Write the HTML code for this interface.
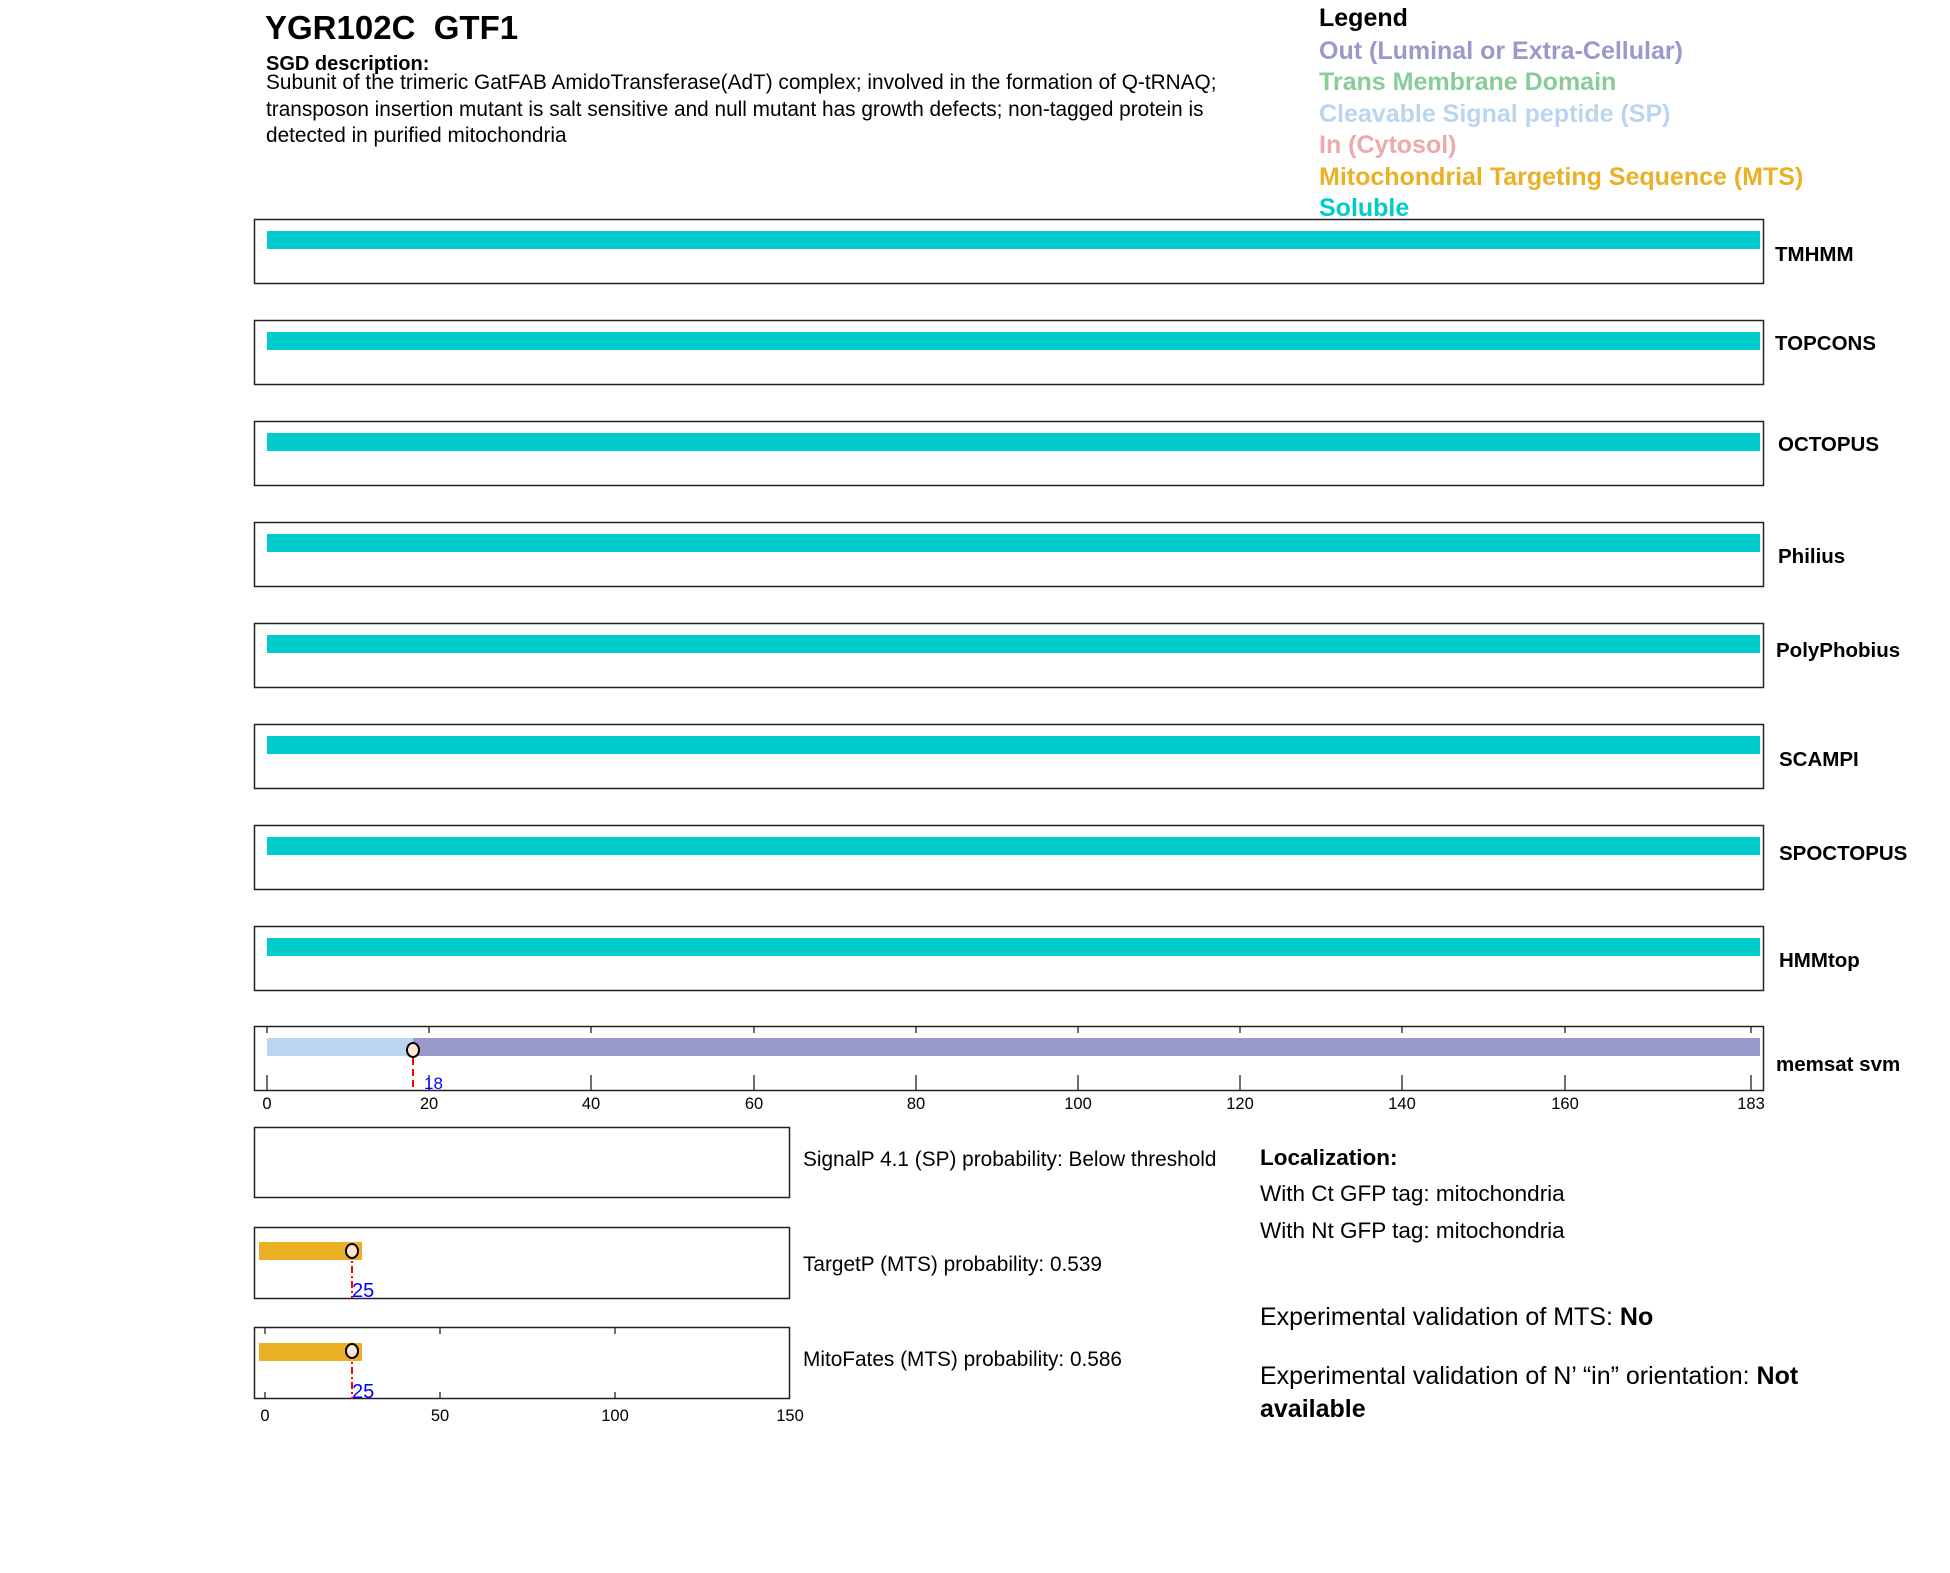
<!DOCTYPE html>
<html><head><meta charset="utf-8"><style>
html,body{margin:0;padding:0;background:#fff;}
svg{display:block;font-family:"Liberation Sans",Arial,sans-serif;}
</style></head><body>
<svg width="1950" height="1573" viewBox="0 0 1950 1573" xmlns="http://www.w3.org/2000/svg">
<rect width="1950" height="1573" fill="#fff"/>
<text x="265" y="39" font-size="33" font-weight="bold">YGR102C&#160;&#160;GTF1</text>
<text x="266" y="70" font-size="20" font-weight="bold">SGD description:</text>
<text x="266" y="89" font-size="20.8">Subunit of the trimeric GatFAB AmidoTransferase(AdT) complex; involved in the formation of Q-tRNAQ;</text>
<text x="266" y="116" font-size="20.8">transposon insertion mutant is salt sensitive and null mutant has growth defects; non-tagged protein is</text>
<text x="266" y="142" font-size="20.8">detected in purified mitochondria</text>

<g font-size="25" font-weight="bold">
<text x="1319" y="26" fill="#000">Legend</text>
<text x="1319" y="59" fill="#9999CC">Out (Luminal or Extra-Cellular)</text>
<text x="1319" y="90" fill="#88CC99">Trans Membrane Domain</text>
<text x="1319" y="122" fill="#BBD5F0">Cleavable Signal peptide (SP)</text>
<text x="1319" y="153" fill="#EEAAAA">In (Cytosol)</text>
<text x="1319" y="185" fill="#EBB025">Mitochondrial Targeting Sequence (MTS)</text>
<text x="1319" y="216" fill="#00CCCC">Soluble</text>
</g>

<g stroke="#222" stroke-width="1.5" fill="none">
<rect x="254.5" y="219.5" width="1509" height="64"/>
<rect x="254.5" y="320.5" width="1509" height="64"/>
<rect x="254.5" y="421.5" width="1509" height="64"/>
<rect x="254.5" y="522.5" width="1509" height="64"/>
<rect x="254.5" y="623.5" width="1509" height="64"/>
<rect x="254.5" y="724.5" width="1509" height="64"/>
<rect x="254.5" y="825.5" width="1509" height="64"/>
<rect x="254.5" y="926.5" width="1509" height="64"/>
<rect x="254.5" y="1026.5" width="1509" height="64"/>
</g>
<g fill="#00CCCC">
<rect x="267" y="231" width="1493" height="18"/>
<rect x="267" y="332" width="1493" height="18"/>
<rect x="267" y="433" width="1493" height="18"/>
<rect x="267" y="534" width="1493" height="18"/>
<rect x="267" y="635" width="1493" height="18"/>
<rect x="267" y="736" width="1493" height="18"/>
<rect x="267" y="837" width="1493" height="18"/>
<rect x="267" y="938" width="1493" height="18"/>
</g>
<g font-size="20.5" font-weight="bold">
<text x="1775" y="261">TMHMM</text>
<text x="1775" y="350">TOPCONS</text>
<text x="1778" y="451">OCTOPUS</text>
<text x="1778" y="563">Philius</text>
<text x="1776" y="657">PolyPhobius</text>
<text x="1779" y="766">SCAMPI</text>
<text x="1779" y="860">SPOCTOPUS</text>
<text x="1779" y="967">HMMtop</text>
<text x="1776" y="1071">memsat svm</text>
</g>

<!-- memsat -->
<rect x="267" y="1038" width="146" height="18" fill="#BBD5F0"/>
<rect x="413" y="1038" width="1347" height="18" fill="#9999CC"/>
<g stroke="#222" stroke-width="1.3">
<line x1="267" y1="1027" x2="267" y2="1033"/><line x1="267" y1="1075" x2="267" y2="1090"/>
<line x1="429" y1="1027" x2="429" y2="1033"/><line x1="429" y1="1075" x2="429" y2="1090"/>
<line x1="591" y1="1027" x2="591" y2="1033"/><line x1="591" y1="1075" x2="591" y2="1090"/>
<line x1="754" y1="1027" x2="754" y2="1033"/><line x1="754" y1="1075" x2="754" y2="1090"/>
<line x1="916" y1="1027" x2="916" y2="1033"/><line x1="916" y1="1075" x2="916" y2="1090"/>
<line x1="1078" y1="1027" x2="1078" y2="1033"/><line x1="1078" y1="1075" x2="1078" y2="1090"/>
<line x1="1240" y1="1027" x2="1240" y2="1033"/><line x1="1240" y1="1075" x2="1240" y2="1090"/>
<line x1="1402" y1="1027" x2="1402" y2="1033"/><line x1="1402" y1="1075" x2="1402" y2="1090"/>
<line x1="1565" y1="1027" x2="1565" y2="1033"/><line x1="1565" y1="1075" x2="1565" y2="1090"/>
<line x1="1751" y1="1027" x2="1751" y2="1033"/><line x1="1751" y1="1075" x2="1751" y2="1090"/>
</g>
<line x1="413" y1="1047" x2="413" y2="1090" stroke="#f00" stroke-width="2" stroke-dasharray="7,4"/>
<ellipse cx="413" cy="1050" rx="6" ry="7" fill="#FDE8CF" stroke="#000" stroke-width="2"/>
<text x="424" y="1089" font-size="17" fill="#00f">18</text>
<g font-size="16.5" text-anchor="middle">
<text x="267" y="1109">0</text><text x="429" y="1109">20</text><text x="591" y="1109">40</text>
<text x="754" y="1109">60</text><text x="916" y="1109">80</text><text x="1078" y="1109">100</text>
<text x="1240" y="1109">120</text><text x="1402" y="1109">140</text><text x="1565" y="1109">160</text>
<text x="1751" y="1109">183</text>
</g>

<!-- bottom boxes -->
<g stroke="#222" stroke-width="1.5" fill="none">
<rect x="254.5" y="1127.5" width="535" height="70"/>
<rect x="254.5" y="1227.5" width="535" height="71"/>
<rect x="254.5" y="1327.5" width="535" height="71"/>
</g>
<rect x="259" y="1242" width="103" height="18" fill="#EBB025"/>
<rect x="259" y="1343" width="103" height="18" fill="#EBB025"/>
<line x1="352" y1="1251" x2="352" y2="1298" stroke="#f00" stroke-width="2" stroke-dasharray="7,3,2,3"/>
<line x1="352" y1="1352" x2="352" y2="1399" stroke="#f00" stroke-width="2" stroke-dasharray="7,3,2,3"/>
<ellipse cx="352" cy="1251" rx="6" ry="7" fill="#FDE8CF" stroke="#000" stroke-width="2"/>
<ellipse cx="352" cy="1351" rx="6" ry="7" fill="#FDE8CF" stroke="#000" stroke-width="2"/>
<text x="352" y="1297" font-size="20" fill="#00f">25</text>
<text x="352" y="1398" font-size="20" fill="#00f">25</text>
<g stroke="#222" stroke-width="1.3">
<line x1="265" y1="1328" x2="265" y2="1334"/><line x1="265" y1="1392" x2="265" y2="1398"/>
<line x1="440" y1="1328" x2="440" y2="1334"/><line x1="440" y1="1392" x2="440" y2="1398"/>
<line x1="615" y1="1328" x2="615" y2="1334"/><line x1="615" y1="1392" x2="615" y2="1398"/>
</g>
<g font-size="16.5" text-anchor="middle">
<text x="265" y="1421">0</text><text x="440" y="1421">50</text><text x="615" y="1421">100</text><text x="790" y="1421">150</text>
</g>
<g font-size="20.8">
<text x="803" y="1166">SignalP 4.1 (SP) probability: Below threshold</text>
<text x="803" y="1271">TargetP (MTS) probability: 0.539</text>
<text x="803" y="1366">MitoFates (MTS) probability: 0.586</text>
</g>
<text x="1260" y="1165" font-size="22.5" font-weight="bold">Localization:</text>
<text x="1260" y="1201" font-size="22.5">With Ct GFP tag: mitochondria</text>
<text x="1260" y="1238" font-size="22.5">With Nt GFP tag: mitochondria</text>
<text x="1260" y="1325" font-size="25">Experimental validation of MTS: <tspan font-weight="bold">No</tspan></text>
<text x="1260" y="1384" font-size="25">Experimental validation of N’ “in” orientation: <tspan font-weight="bold">Not</tspan></text>
<text x="1260" y="1417" font-size="25" font-weight="bold">available</text>
</svg>
</body></html>
